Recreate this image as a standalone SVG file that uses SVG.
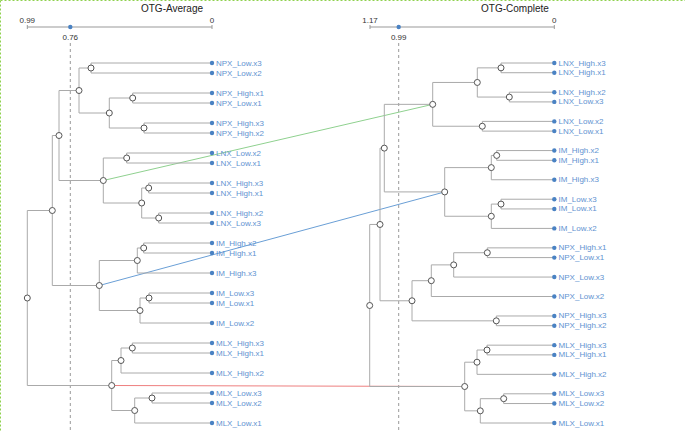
<svg xmlns="http://www.w3.org/2000/svg" width="685" height="432" viewBox="0 0 685 432">
<style>
.t{fill:none;stroke:#aaa;stroke-width:1}
.n{fill:#fff;stroke:#555;stroke-width:1}
.lf{fill:#4a82c3}
.lb{font-family:"Liberation Sans",Arial,sans-serif;font-size:8px;fill:#5f93d1;dominant-baseline:central}
.ax{fill:none;stroke:#999;stroke-width:1}
.at{font-family:"Liberation Sans",Arial,sans-serif;font-size:8px;fill:#333;text-anchor:middle}
.ti{font-family:"Liberation Sans",Arial,sans-serif;font-size:10px;fill:#222;text-anchor:middle}
.ds{fill:none;stroke:#999;stroke-width:1;stroke-dasharray:3,3}
</style>
<line x1="0.5" y1="0.5" x2="685" y2="0.5" stroke="#8fd14f" stroke-width="1" stroke-dasharray="2,2"/>
<line x1="0.5" y1="0.5" x2="0.5" y2="432" stroke="#8fd14f" stroke-width="1" stroke-dasharray="2,2"/>

<g id="axis-left">
<text class="ti" x="172" y="12">OTG-Average</text>
<path class="ax" d="M27.3,27H212M27.3,25V29M212,25V29"/>
<text class="at" x="27.3" y="23">0.99</text>
<text class="at" x="212" y="23">0</text>
<circle cx="70.3" cy="27" r="2.2" fill="#4a82c3"/>
<text class="at" x="70.3" y="40">0.76</text>
<line class="ds" x1="70.3" y1="43" x2="70.3" y2="432"/>
</g>
<g id="axis-right">
<text class="ti" x="515" y="12">OTG-Complete</text>
<path class="ax" d="M370,27H554.3M370,25V29M554.3,25V29"/>
<text class="at" x="370" y="23">1.17</text>
<text class="at" x="554.3" y="23">0</text>
<circle cx="398.7" cy="27" r="2.2" fill="#4a82c3"/>
<text class="at" x="398.7" y="40">0.99</text>
<line class="ds" x1="398.7" y1="43" x2="398.7" y2="432"/>
</g>

<g id="connectors">
<line x1="103.3" y1="180.5" x2="432.7" y2="104.35" stroke="#8fd18f" stroke-width="1"/>
<line x1="99.3" y1="285.5" x2="444.7" y2="191.92" stroke="#6a9fd6" stroke-width="1"/>
<line x1="111.7" y1="385.5" x2="464.7" y2="386.51" stroke="#ee7f7f" stroke-width="1"/>
</g>

<g id="tree-left">
<path class="t" d="
M91,63V73M91,63H212M91,73H212
M132.7,93V103M132.7,93H212M132.7,103H212
M144,123V133M144,123H212M144,133H212
M109.3,98V128M109.3,98H132.7M109.3,128H144
M79,68V113M79,68H91M79,113H109.3
M126.7,153V163M126.7,153H212M126.7,163H212
M148.7,183V193M148.7,183H212M148.7,193H212
M158.7,213V223M158.7,213H212M158.7,223H212
M141.7,188V218M141.7,188H148.7M141.7,218H158.7
M103.3,158V203M103.3,158H126.7M103.3,203H141.7
M59,90.5V180.5M59,90.5H79M59,180.5H103.3
M143.7,243V253M143.7,243H212M143.7,253H212
M137.3,248V273M137.3,248H143.7M137.3,273H212
M149,293V303M149,293H212M149,303H212
M140,298V323M140,298H149M140,323H212
M99.3,260.5V310.5M99.3,260.5H137.3M99.3,310.5H140
M52.3,135.5V285.5M52.3,135.5H59M52.3,285.5H99.3
M132.3,343V353M132.3,343H212M132.3,353H212
M121,348V373M121,348H132.3M121,373H212
M152,393V403M152,393H212M152,403H212
M134.7,398V423M134.7,398H152M134.7,423H212
M111.7,360.5V410.5M111.7,360.5H121M111.7,410.5H134.7
M27.3,210.5V385.5M27.3,210.5H52.3M27.3,385.5H111.7"/>
</g>

<g id="tree-right">
<path class="t" d="
M501,63V72.73M501,63H554.3M501,72.73H554.3
M509.3,92.19V101.92M509.3,92.19H554.3M509.3,101.92H554.3
M477.3,67.86V97.05M477.3,67.86H501M477.3,97.05H509.3
M482.3,121.38V131.11M482.3,121.38H554.3M482.3,131.11H554.3
M432.7,82.46V126.24M432.7,82.46H477.3M432.7,126.24H482.3
M496.7,150.57V160.3M496.7,150.57H554.3M496.7,160.3H554.3
M491.3,155.43V179.76M491.3,155.43H496.7M491.3,179.76H554.3
M501,199.22V208.95M501,199.22H554.3M501,208.95H554.3
M491.3,204.08V228.41M491.3,204.08H501M491.3,228.41H554.3
M444.7,167.6V216.25M444.7,167.6H491.3M444.7,216.25H491.3
M384.3,104.35V191.92M384.3,104.35H432.7M384.3,191.92H444.7
M487.3,247.86V257.59M487.3,247.86H554.3M487.3,257.59H554.3
M453.7,252.73V277.05M453.7,252.73H487.3M453.7,277.05H554.3
M431.3,264.89V296.51M431.3,264.89H453.7M431.3,296.51H554.3
M496.3,315.97V325.7M496.3,315.97H554.3M496.3,325.7H554.3
M412,280.7V320.84M412,280.7H431.3M412,320.84H496.3
M380,148.14V300.77M380,148.14H384.3M380,300.77H412
M487,345.16V354.89M487,345.16H554.3M487,354.89H554.3
M477,350.03V374.35M477,350.03H487M477,374.35H554.3
M503.7,393.81V403.54M503.7,393.81H554.3M503.7,403.54H554.3
M480.3,398.68V423M480.3,398.68H503.7M480.3,423H554.3
M464.7,362.19V410.84M464.7,362.19H477M464.7,410.84H480.3
M369.7,224.46V386.51M369.7,224.46H380M369.7,386.51H464.7"/>
</g>

<g id="nodes-left">
<circle class="n" cx="91" cy="68" r="3"/>
<circle class="n" cx="132.7" cy="98" r="3"/>
<circle class="n" cx="144" cy="128" r="3"/>
<circle class="n" cx="109.3" cy="113" r="3"/>
<circle class="n" cx="79" cy="90.5" r="3"/>
<circle class="n" cx="126.7" cy="158" r="3"/>
<circle class="n" cx="148.7" cy="188" r="3"/>
<circle class="n" cx="158.7" cy="218" r="3"/>
<circle class="n" cx="141.7" cy="203" r="3"/>
<circle class="n" cx="103.3" cy="180.5" r="3"/>
<circle class="n" cx="59" cy="135.5" r="3"/>
<circle class="n" cx="143.7" cy="248" r="3"/>
<circle class="n" cx="137.3" cy="260.5" r="3"/>
<circle class="n" cx="149" cy="298" r="3"/>
<circle class="n" cx="140" cy="310.5" r="3"/>
<circle class="n" cx="99.3" cy="285.5" r="3"/>
<circle class="n" cx="52.3" cy="210.5" r="3"/>
<circle class="n" cx="132.3" cy="348" r="3"/>
<circle class="n" cx="121" cy="360.5" r="3"/>
<circle class="n" cx="152" cy="398" r="3"/>
<circle class="n" cx="134.7" cy="410.5" r="3"/>
<circle class="n" cx="111.7" cy="385.5" r="3"/>
<circle class="n" cx="27.3" cy="298" r="3"/>
</g>

<g id="nodes-right">
<circle class="n" cx="501" cy="67.86" r="3"/>
<circle class="n" cx="509.3" cy="97.05" r="3"/>
<circle class="n" cx="477.3" cy="82.46" r="3"/>
<circle class="n" cx="482.3" cy="126.24" r="3"/>
<circle class="n" cx="432.7" cy="104.35" r="3"/>
<circle class="n" cx="496.7" cy="155.43" r="3"/>
<circle class="n" cx="491.3" cy="167.6" r="3"/>
<circle class="n" cx="501" cy="204.08" r="3"/>
<circle class="n" cx="491.3" cy="216.25" r="3"/>
<circle class="n" cx="444.7" cy="191.92" r="3"/>
<circle class="n" cx="384.3" cy="148.14" r="3"/>
<circle class="n" cx="487.3" cy="252.73" r="3"/>
<circle class="n" cx="453.7" cy="264.89" r="3"/>
<circle class="n" cx="431.3" cy="280.7" r="3"/>
<circle class="n" cx="496.3" cy="320.84" r="3"/>
<circle class="n" cx="412" cy="300.77" r="3"/>
<circle class="n" cx="380" cy="224.46" r="3"/>
<circle class="n" cx="487" cy="350.03" r="3"/>
<circle class="n" cx="477" cy="362.19" r="3"/>
<circle class="n" cx="503.7" cy="398.68" r="3"/>
<circle class="n" cx="480.3" cy="410.84" r="3"/>
<circle class="n" cx="464.7" cy="386.51" r="3"/>
<circle class="n" cx="369.7" cy="305.49" r="3"/>
</g>

<g id="leaves-left">
<g id="L-NPX_Low.x3"><circle class="lf" cx="212" cy="63" r="2.2"/><text class="lb" x="216" y="63">NPX_Low.x3</text></g>
<g id="L-NPX_Low.x2"><circle class="lf" cx="212" cy="73" r="2.2"/><text class="lb" x="216" y="73">NPX_Low.x2</text></g>
<g id="L-NPX_High.x1"><circle class="lf" cx="212" cy="93" r="2.2"/><text class="lb" x="216" y="93">NPX_High.x1</text></g>
<g id="L-NPX_Low.x1"><circle class="lf" cx="212" cy="103" r="2.2"/><text class="lb" x="216" y="103">NPX_Low.x1</text></g>
<g id="L-NPX_High.x3"><circle class="lf" cx="212" cy="123" r="2.2"/><text class="lb" x="216" y="123">NPX_High.x3</text></g>
<g id="L-NPX_High.x2"><circle class="lf" cx="212" cy="133" r="2.2"/><text class="lb" x="216" y="133">NPX_High.x2</text></g>
<g id="L-LNX_Low.x2"><circle class="lf" cx="212" cy="153" r="2.2"/><text class="lb" x="216" y="153">LNX_Low.x2</text></g>
<g id="L-LNX_Low.x1"><circle class="lf" cx="212" cy="163" r="2.2"/><text class="lb" x="216" y="163">LNX_Low.x1</text></g>
<g id="L-LNX_High.x3"><circle class="lf" cx="212" cy="183" r="2.2"/><text class="lb" x="216" y="183">LNX_High.x3</text></g>
<g id="L-LNX_High.x1"><circle class="lf" cx="212" cy="193" r="2.2"/><text class="lb" x="216" y="193">LNX_High.x1</text></g>
<g id="L-LNX_High.x2"><circle class="lf" cx="212" cy="213" r="2.2"/><text class="lb" x="216" y="213">LNX_High.x2</text></g>
<g id="L-LNX_Low.x3"><circle class="lf" cx="212" cy="223" r="2.2"/><text class="lb" x="216" y="223">LNX_Low.x3</text></g>
<g id="L-IM_High.x2"><circle class="lf" cx="212" cy="243" r="2.2"/><text class="lb" x="216" y="243">IM_High.x2</text></g>
<g id="L-IM_High.x1"><circle class="lf" cx="212" cy="253" r="2.2"/><text class="lb" x="216" y="253">IM_High.x1</text></g>
<g id="L-IM_High.x3"><circle class="lf" cx="212" cy="273" r="2.2"/><text class="lb" x="216" y="273">IM_High.x3</text></g>
<g id="L-IM_Low.x3"><circle class="lf" cx="212" cy="293" r="2.2"/><text class="lb" x="216" y="293">IM_Low.x3</text></g>
<g id="L-IM_Low.x1"><circle class="lf" cx="212" cy="303" r="2.2"/><text class="lb" x="216" y="303">IM_Low.x1</text></g>
<g id="L-IM_Low.x2"><circle class="lf" cx="212" cy="323" r="2.2"/><text class="lb" x="216" y="323">IM_Low.x2</text></g>
<g id="L-MLX_High.x3"><circle class="lf" cx="212" cy="343" r="2.2"/><text class="lb" x="216" y="343">MLX_High.x3</text></g>
<g id="L-MLX_High.x1"><circle class="lf" cx="212" cy="353" r="2.2"/><text class="lb" x="216" y="353">MLX_High.x1</text></g>
<g id="L-MLX_High.x2"><circle class="lf" cx="212" cy="373" r="2.2"/><text class="lb" x="216" y="373">MLX_High.x2</text></g>
<g id="L-MLX_Low.x3"><circle class="lf" cx="212" cy="393" r="2.2"/><text class="lb" x="216" y="393">MLX_Low.x3</text></g>
<g id="L-MLX_Low.x2"><circle class="lf" cx="212" cy="403" r="2.2"/><text class="lb" x="216" y="403">MLX_Low.x2</text></g>
<g id="L-MLX_Low.x1"><circle class="lf" cx="212" cy="423" r="2.2"/><text class="lb" x="216" y="423">MLX_Low.x1</text></g>
</g>

<g id="leaves-right">
<g id="R-LNX_High.x3"><circle class="lf" cx="554.3" cy="63" r="2.2"/><text class="lb" x="558.5" y="63">LNX_High.x3</text></g>
<g id="R-LNX_High.x1"><circle class="lf" cx="554.3" cy="72.73" r="2.2"/><text class="lb" x="558.5" y="72.73">LNX_High.x1</text></g>
<g id="R-LNX_High.x2"><circle class="lf" cx="554.3" cy="92.19" r="2.2"/><text class="lb" x="558.5" y="92.19">LNX_High.x2</text></g>
<g id="R-LNX_Low.x3"><circle class="lf" cx="554.3" cy="101.92" r="2.2"/><text class="lb" x="558.5" y="101.92">LNX_Low.x3</text></g>
<g id="R-LNX_Low.x2"><circle class="lf" cx="554.3" cy="121.38" r="2.2"/><text class="lb" x="558.5" y="121.38">LNX_Low.x2</text></g>
<g id="R-LNX_Low.x1"><circle class="lf" cx="554.3" cy="131.11" r="2.2"/><text class="lb" x="558.5" y="131.11">LNX_Low.x1</text></g>
<g id="R-IM_High.x2"><circle class="lf" cx="554.3" cy="150.57" r="2.2"/><text class="lb" x="558.5" y="150.57">IM_High.x2</text></g>
<g id="R-IM_High.x1"><circle class="lf" cx="554.3" cy="160.3" r="2.2"/><text class="lb" x="558.5" y="160.3">IM_High.x1</text></g>
<g id="R-IM_High.x3"><circle class="lf" cx="554.3" cy="179.76" r="2.2"/><text class="lb" x="558.5" y="179.76">IM_High.x3</text></g>
<g id="R-IM_Low.x3"><circle class="lf" cx="554.3" cy="199.22" r="2.2"/><text class="lb" x="558.5" y="199.22">IM_Low.x3</text></g>
<g id="R-IM_Low.x1"><circle class="lf" cx="554.3" cy="208.95" r="2.2"/><text class="lb" x="558.5" y="208.95">IM_Low.x1</text></g>
<g id="R-IM_Low.x2"><circle class="lf" cx="554.3" cy="228.41" r="2.2"/><text class="lb" x="558.5" y="228.41">IM_Low.x2</text></g>
<g id="R-NPX_High.x1"><circle class="lf" cx="554.3" cy="247.86" r="2.2"/><text class="lb" x="558.5" y="247.86">NPX_High.x1</text></g>
<g id="R-NPX_Low.x1"><circle class="lf" cx="554.3" cy="257.59" r="2.2"/><text class="lb" x="558.5" y="257.59">NPX_Low.x1</text></g>
<g id="R-NPX_Low.x3"><circle class="lf" cx="554.3" cy="277.05" r="2.2"/><text class="lb" x="558.5" y="277.05">NPX_Low.x3</text></g>
<g id="R-NPX_Low.x2"><circle class="lf" cx="554.3" cy="296.51" r="2.2"/><text class="lb" x="558.5" y="296.51">NPX_Low.x2</text></g>
<g id="R-NPX_High.x3"><circle class="lf" cx="554.3" cy="315.97" r="2.2"/><text class="lb" x="558.5" y="315.97">NPX_High.x3</text></g>
<g id="R-NPX_High.x2"><circle class="lf" cx="554.3" cy="325.7" r="2.2"/><text class="lb" x="558.5" y="325.7">NPX_High.x2</text></g>
<g id="R-MLX_High.x3"><circle class="lf" cx="554.3" cy="345.16" r="2.2"/><text class="lb" x="558.5" y="345.16">MLX_High.x3</text></g>
<g id="R-MLX_High.x1"><circle class="lf" cx="554.3" cy="354.89" r="2.2"/><text class="lb" x="558.5" y="354.89">MLX_High.x1</text></g>
<g id="R-MLX_High.x2"><circle class="lf" cx="554.3" cy="374.35" r="2.2"/><text class="lb" x="558.5" y="374.35">MLX_High.x2</text></g>
<g id="R-MLX_Low.x3"><circle class="lf" cx="554.3" cy="393.81" r="2.2"/><text class="lb" x="558.5" y="393.81">MLX_Low.x3</text></g>
<g id="R-MLX_Low.x2"><circle class="lf" cx="554.3" cy="403.54" r="2.2"/><text class="lb" x="558.5" y="403.54">MLX_Low.x2</text></g>
<g id="R-MLX_Low.x1"><circle class="lf" cx="554.3" cy="423" r="2.2"/><text class="lb" x="558.5" y="423">MLX_Low.x1</text></g>
</g>
</svg>
